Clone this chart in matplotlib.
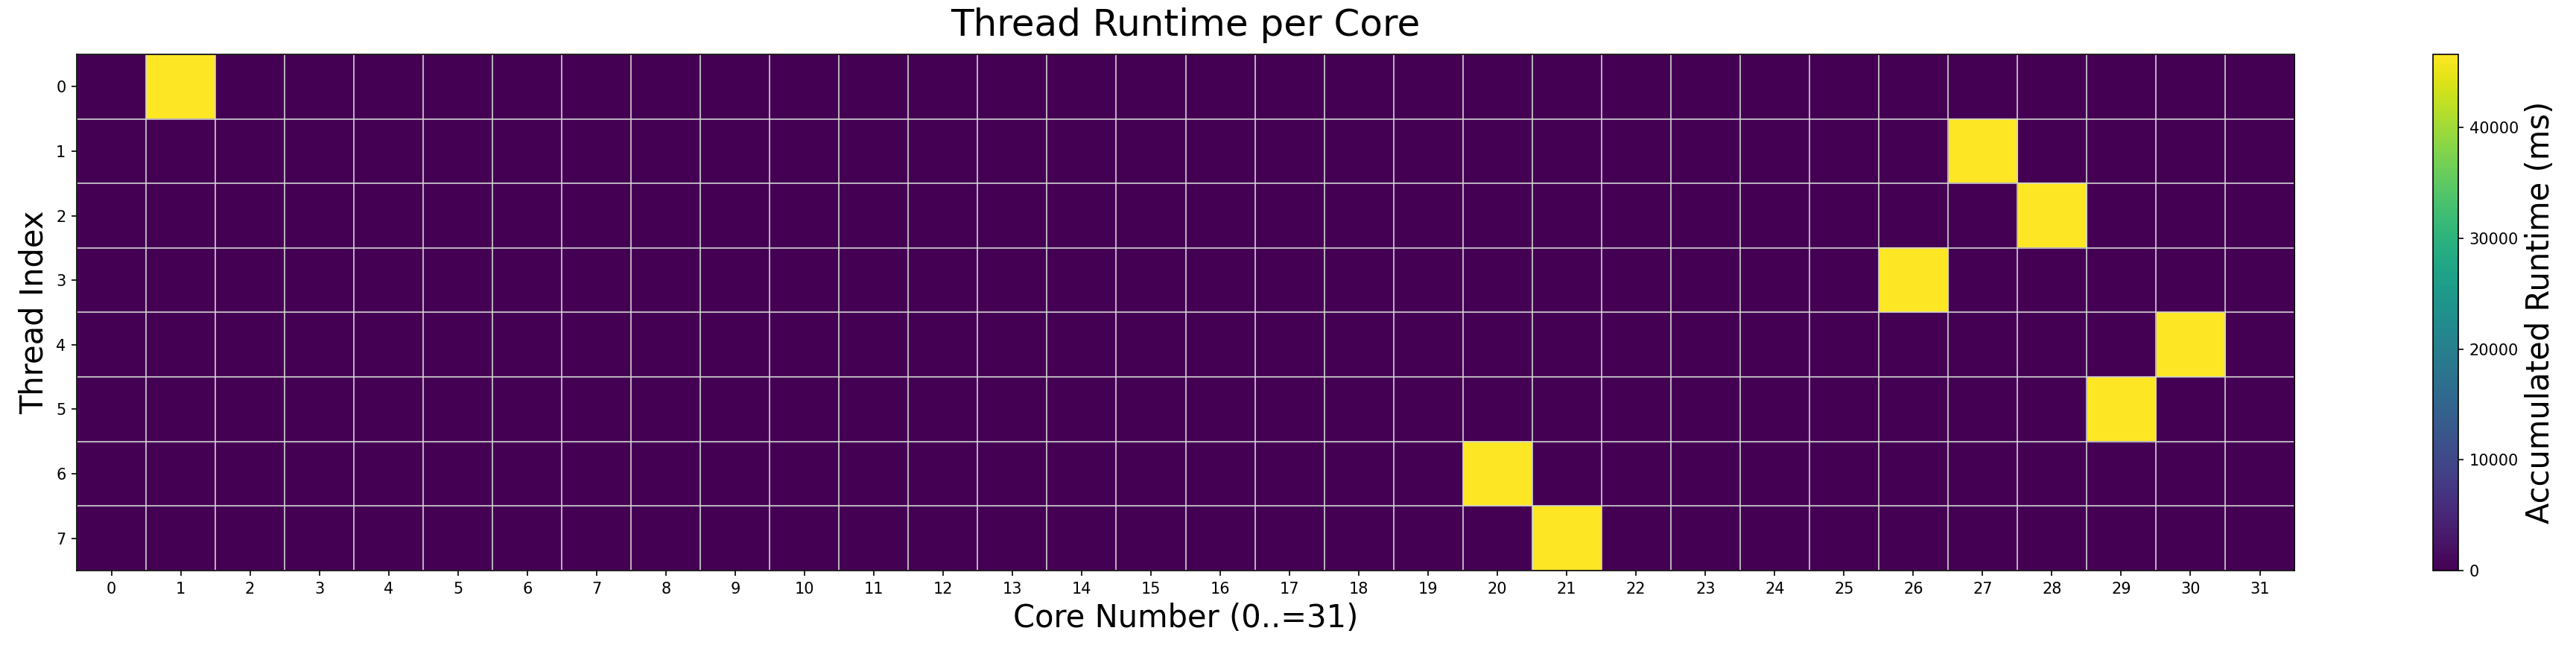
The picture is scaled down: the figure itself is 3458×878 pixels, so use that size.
import matplotlib.pyplot as plt
import numpy as np

# threads pinned to cores: which core each thread ran on, and total runtime (ms)
threads = [0, 1, 2, 3, 4, 5, 6, 7]
hot_core = [1, 27, 28, 26, 30, 29, 20, 21]
runtime_ms = [46590, 46560, 46570, 46550, 46580, 46560, 46570, 46550]
n_cores = 32

# build the thread x core matrix
data = np.zeros((len(threads), n_cores))
for t, c, v in zip(threads, hot_core, runtime_ms):
    data[t, c] = v

fig = plt.figure(figsize=(3458 / 150, 878 / 150), dpi=150)
ax = fig.add_axes([0.02979, 0.12756, 0.8907 - 0.02979, 0.91686 - 0.12756])
cax = fig.add_axes([0.94448, 0.12756, 0.95431 - 0.94448, 0.91686 - 0.12756])

im = ax.imshow(data, cmap='viridis', aspect='auto', interpolation='nearest')

# grid between cells
ax.set_xticks(np.arange(n_cores))
ax.set_yticks(np.arange(len(threads)))
ax.set_xticks(np.arange(-0.5, n_cores, 1), minor=True)
ax.set_yticks(np.arange(-0.5, len(threads), 1), minor=True)
ax.grid(which='minor', color='lightgray', linestyle='-', linewidth=0.8)
ax.tick_params(which='minor', length=0)

ax.set_title('Thread Runtime per Core', fontsize=24, pad=12)
ax.set_xlabel('Core Number (0..=31)', fontsize=20)
ax.set_ylabel('Thread Index', fontsize=20)

cb = fig.colorbar(im, cax=cax)
cb.set_label('Accumulated Runtime (ms)', fontsize=20)

fig.savefig('out.png', dpi=150)
